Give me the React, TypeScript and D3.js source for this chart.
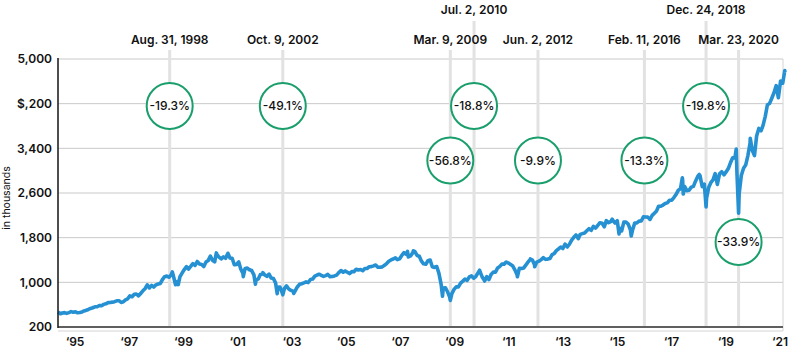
import React from "react";
import * as d3 from "d3";

// Monthly closing values (index points)
const close1994 = [446, 451, 457, 444, 458, 475, 463, 472, 454, 459]; // Mar–Dec
const close1995 = [470, 487, 500, 514, 533, 545, 562, 562, 584, 582, 605, 616];
const close1996 = [636, 640, 645, 654, 669, 671, 640, 652, 687, 705, 757, 741];
const close1997 = [786, 791, 757, 801, 848, 885, 954, 899, 947, 915, 955, 970];
const close1998 = [980, 1049, 1102, 1112, 1091, 1134, 1121, 957, 1017, 1099, 1164, 1229];
const close1999 = [1280, 1238, 1286, 1335, 1302, 1373, 1329, 1320, 1283, 1363, 1389, 1469];
const close2000 = [1394, 1366, 1499, 1452, 1421, 1455, 1431, 1518, 1437, 1429, 1315, 1320];
const close2001 = [1366, 1240, 1160, 1249, 1256, 1224, 1211, 1134, 1041, 1060, 1139, 1148];
const close2002 = [1130, 1107, 1147, 1077, 1067, 990, 912, 916, 815, 886, 936, 880];
const close2003 = [856, 841, 848, 917, 964, 975, 990, 1008, 996, 1051, 1058, 1112];
const close2004 = [1131, 1145, 1126, 1107, 1121, 1141, 1102, 1104, 1115, 1130, 1174, 1212];
const close2005 = [1181, 1204, 1181, 1157, 1192, 1191, 1234, 1220, 1229, 1207, 1249, 1248];
const close2006 = [1280, 1281, 1295, 1311, 1270, 1270, 1277, 1304, 1336, 1378, 1401, 1418];
const close2007 = [1438, 1407, 1421, 1482, 1531, 1503, 1455, 1474, 1527, 1549, 1481, 1468];
const close2008 = [1379, 1331, 1323, 1386, 1400, 1280, 1267, 1283, 1166, 969, 896, 903];
const close2009 = [826, 735, 798, 873, 919, 919, 987, 1021, 1057, 1036, 1096, 1115];
const close2010 = [1074, 1104, 1169, 1187, 1089, 1031, 1102, 1049, 1141, 1183, 1181, 1258];
const close2011 = [1286, 1327, 1326, 1364, 1345, 1321, 1292, 1219, 1131, 1253, 1247, 1258];
const close2012 = [1312, 1366, 1408, 1398, 1310, 1362, 1379, 1407, 1441, 1412, 1416, 1426];
const close2013 = [1498, 1515, 1569, 1598, 1631, 1606, 1686, 1633, 1682, 1757, 1806, 1848];
const close2014 = [1783, 1859, 1872, 1884, 1924, 1960, 1931, 2003, 1972, 2018, 2068, 2059];
const close2015 = [1995, 2105, 2068, 2086, 2107, 2063, 2104, 1972, 1920, 2079, 2080, 2044];
const close2016 = [1940, 1932, 2060, 2065, 2097, 2099, 2174, 2171, 2168, 2126, 2199, 2239];
const close2017 = [2279, 2364, 2363, 2384, 2412, 2423, 2470, 2472, 2519, 2575, 2648, 2674];
const close2018 = [2824, 2714, 2641, 2648, 2705, 2718, 2816, 2902, 2914, 2712, 2760, 2507];
const close2019 = [2704, 2784, 2834, 2946, 2752, 2942, 2980, 2926, 2977, 3038, 3141, 3231];
const close2020 = [3226, 2954, 2585, 2912, 3044, 3100, 3271, 3500, 3363, 3270, 3622, 3756];
const close2021 = [3714, 3811, 3973, 4181, 4204, 4298, 4395, 4523, 4308, 4605, 4567, 4766];

// Intra-month highs and lows visible in the line
const extremeDates = [
  "1994-03-01", "1994-04-04", "1998-07-17", "1998-08-31", "1998-10-08", "2000-03-24",
  "2000-09-01", "2001-04-04", "2001-09-21", "2002-01-04", "2002-07-23", "2002-10-09",
  "2003-03-11", "2007-07-19", "2007-10-09", "2008-11-20", "2009-03-09", "2010-04-23",
  "2010-07-02", "2011-04-29", "2011-10-03", "2012-04-02", "2012-06-01", "2015-05-21",
  "2015-08-25", "2016-02-11", "2018-01-26", "2018-02-08", "2018-09-20", "2018-12-24",
  "2020-02-19", "2020-03-23", "2020-09-02", "2021-12-29",
];
const extremeValues = [
  465, 438, 1187, 957, 960, 1527, 1521, 1103, 966, 1173, 797, 777, 800, 1554, 1565, 752,
  677, 1217, 1022, 1364, 1099, 1419, 1278, 2131, 1867, 1829, 2873, 2581, 2931, 2351, 3386,
  2237, 3580, 4793,
];

const yTickValues = [200, 1000, 1800, 2600, 3400, 4200, 5000];
const yTickLabels = ["200", "1,000", "1,800", "2,600", "3,400", "$,200", "5,000"];
const xTickLabels = ["‘95", "‘97", "‘99", "‘01", "‘03", "‘05", "‘07", "‘09", "‘11", "‘13", "‘15", "‘17", "‘19", "‘21"];

const eventLabels = ["Aug. 31, 1998", "Oct. 9, 2002", "Mar. 9, 2009", "Jul. 2, 2010", "Jun. 2, 2012", "Feb. 11, 2016", "Dec. 24, 2018", "Mar. 23, 2020"];
const eventMarkerDates = ["1998-06-10", "2002-10-09", "2009-03-09", "2010-02-04", "2012-07-17", "2016-08-14", "2018-12-24", "2020-03-23"];
const eventDeclines = ["-19.3%", "-49.1%", "-56.8%", "-18.8%", "-9.9%", "-13.3%", "-19.8%", "-33.9%"];
const eventBubbleLevels = [4158, 4158, 3182, 4158, 3182, 3182, 4158, 1722];
const eventLabelTier = [1, 1, 1, 0, 1, 1, 0, 1];

const yearBlocks: [number, number[], number][] = [
  [1994, close1994, 2], [1995, close1995, 0], [1996, close1996, 0], [1997, close1997, 0],
  [1998, close1998, 0], [1999, close1999, 0], [2000, close2000, 0], [2001, close2001, 0],
  [2002, close2002, 0], [2003, close2003, 0], [2004, close2004, 0], [2005, close2005, 0],
  [2006, close2006, 0], [2007, close2007, 0], [2008, close2008, 0], [2009, close2009, 0],
  [2010, close2010, 0], [2011, close2011, 0], [2012, close2012, 0], [2013, close2013, 0],
  [2014, close2014, 0], [2015, close2015, 0], [2016, close2016, 0], [2017, close2017, 0],
  [2018, close2018, 0], [2019, close2019, 0], [2020, close2020, 0], [2021, close2021, 0],
];

const parse = d3.timeParse("%Y-%m-%d");

function buildSeries() {
  const pts: { d: Date; v: number }[] = [];
  yearBlocks.forEach(([yr, arr, startMonth]) => {
    arr.forEach((v, i) => {
      const m = startMonth + i;
      pts.push({ d: new Date(yr, m + 1, 0), v }); // month end
    });
  });
  extremeDates.forEach((s, i) => pts.push({ d: parse(s) as Date, v: extremeValues[i] }));
  pts.sort((a, b) => +a.d - +b.d);
  return pts;
}

const FONT = "Inter, 'Open Sans', 'DejaVu Sans', sans-serif";

export default function App() {
  const W = 800;
  const H = 352;
  const left = 58;
  const right = 783;
  const top = 59;
  const bottom = 327;

  const x = d3.scaleTime().domain([new Date(1994, 2, 1), new Date(2022, 0, 1)]).range([58, 785]);
  const y = d3.scaleLinear().domain([200, 5000]).range([bottom, top]);
  const xLab = d3.scalePoint<string>().domain(xTickLabels).range([75, 780]);

  const series = buildSeries();
  const line = d3
    .line<{ d: Date; v: number }>()
    .x((p) => x(p.d))
    .y((p) => y(p.v))
    .curve(d3.curveLinear);

  const textColor = "#111";
  const blue = "#2590d2";
  const green = "#1a9f6c";
  const fs = 12;
  const fw = 600;

  return (
    <svg
      width={W}
      height={H}
      style={{ position: "absolute", left: 0, top: 0, background: "#fff" }}
      fontFamily={FONT}
    >
      <rect x={0} y={0} width={W} height={H} fill="#fff" />
      {/* gridlines */}
      {yTickValues.map((v) => (
        <line key={"g" + v} x1={left} x2={right} y1={y(v)} y2={y(v)} stroke="#c9c9c9" strokeWidth={1} />
      ))}
      <line x1={right} x2={right} y1={top} y2={331} stroke="#d4d4d4" strokeWidth={1} />
      <line x1={left} x2={right} y1={331} y2={331} stroke="#d4d4d4" strokeWidth={1} />

      {/* event vertical lines */}
      {eventMarkerDates.map((s, i) => {
        const xx = x(parse(s) as Date);
        const y0 = eventLabelTier[i] === 0 ? 21 : 50;
        return <line key={"ev" + i} x1={xx} x2={xx} y1={y0} y2={bottom} stroke="#e2e2e2" strokeWidth={3} />;
      })}

      {/* data line */}
      <path d={line(series) || ""} fill="none" stroke={blue} strokeWidth={3.6} strokeLinejoin="round" />

      {/* axes */}
      <line x1={left} x2={right} y1={bottom} y2={bottom} stroke="#333" strokeWidth={1.6} />
      <line x1={left} x2={left} y1={top - 1} y2={bottom + 1} stroke="#222" strokeWidth={1.6} />

      {/* y tick labels */}
      {yTickValues.map((v, i) => (
        <text
          key={"yt" + v}
          x={52}
          y={y(v) + 1}
          textAnchor="end"
          dominantBaseline="middle"
          fontSize={fs}
          fontWeight={fw}
          fill={textColor}
        >
          {yTickLabels[i]}
        </text>
      ))}
      <text
        transform={`translate(10,198) rotate(-90)`}
        textAnchor="middle"
        fontSize={10.5}
        fill={textColor}
      >
        in thousands
      </text>

      {/* x tick labels */}
      {xTickLabels.map((l) => (
        <text key={"xt" + l} x={xLab(l)} y={346} textAnchor="middle" fontSize={fs} fontWeight={fw} fill={textColor}>
          {l}
        </text>
      ))}

      {/* event labels and bubbles */}
      {eventMarkerDates.map((s, i) => {
        const xx = x(parse(s) as Date);
        const cy = y(eventBubbleLevels[i]);
        const ty = eventLabelTier[i] === 0 ? 13.5 : 44;
        return (
          <g key={"eb" + i}>
            <text x={xx} y={ty} textAnchor="middle" fontSize={fs} fontWeight={fw} fill={textColor}>
              {eventLabels[i]}
            </text>
            <circle cx={xx} cy={cy} r={23} fill="#fff" stroke={green} strokeWidth={2} />
            <text x={xx} y={cy + 1} textAnchor="middle" dominantBaseline="middle" fontSize={fs} fontWeight={500} fill={textColor}>
              {eventDeclines[i]}
            </text>
          </g>
        );
      })}
    </svg>
  );
}
